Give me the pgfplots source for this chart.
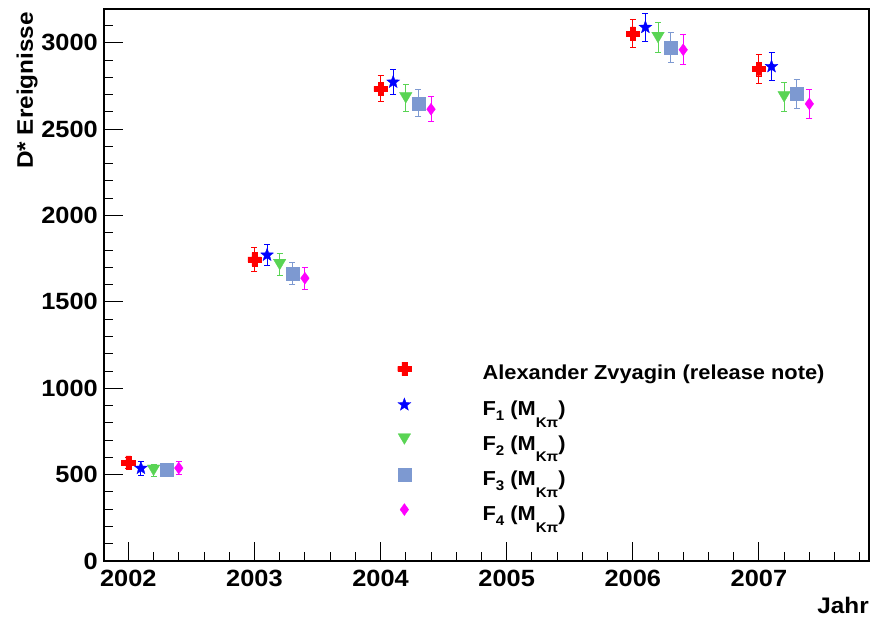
\documentclass[border=0pt]{standalone}
\usepackage{pgfplots}
\pgfplotsset{compat=1.18}
\usepackage{fontspec}
\setmainfont{Liberation Sans}[FakeStretch=1.08]
\usetikzlibrary{plotmarks}

% lowered subscripts as in the ROOT legend
\newcommand\lowsub[2]{\raisebox{#1}{\fontsize{14}{14}\selectfont #2}}

% filled markers in the ROOT style
\pgfdeclareplotmark{fplus}{%
  \pgfpathmoveto{\pgfqpoint{-0.37\pgfplotmarksize}{\pgfplotmarksize}}%
  \pgfpathlineto{\pgfqpoint{0.37\pgfplotmarksize}{\pgfplotmarksize}}%
  \pgfpathlineto{\pgfqpoint{0.37\pgfplotmarksize}{0.37\pgfplotmarksize}}%
  \pgfpathlineto{\pgfqpoint{\pgfplotmarksize}{0.37\pgfplotmarksize}}%
  \pgfpathlineto{\pgfqpoint{\pgfplotmarksize}{-0.37\pgfplotmarksize}}%
  \pgfpathlineto{\pgfqpoint{0.37\pgfplotmarksize}{-0.37\pgfplotmarksize}}%
  \pgfpathlineto{\pgfqpoint{0.37\pgfplotmarksize}{-\pgfplotmarksize}}%
  \pgfpathlineto{\pgfqpoint{-0.37\pgfplotmarksize}{-\pgfplotmarksize}}%
  \pgfpathlineto{\pgfqpoint{-0.37\pgfplotmarksize}{-0.37\pgfplotmarksize}}%
  \pgfpathlineto{\pgfqpoint{-\pgfplotmarksize}{-0.37\pgfplotmarksize}}%
  \pgfpathlineto{\pgfqpoint{-\pgfplotmarksize}{0.37\pgfplotmarksize}}%
  \pgfpathlineto{\pgfqpoint{-0.37\pgfplotmarksize}{0.37\pgfplotmarksize}}%
  \pgfpathclose\pgfusepathqfillstroke}
\pgfdeclareplotmark{fstar}{%
  \pgfpathmoveto{\pgfpointpolar{90}{\pgfplotmarksize}}%
  \pgfpathlineto{\pgfpointpolar{126}{0.42\pgfplotmarksize}}%
  \pgfpathlineto{\pgfpointpolar{162}{\pgfplotmarksize}}%
  \pgfpathlineto{\pgfpointpolar{198}{0.42\pgfplotmarksize}}%
  \pgfpathlineto{\pgfpointpolar{234}{\pgfplotmarksize}}%
  \pgfpathlineto{\pgfpointpolar{270}{0.42\pgfplotmarksize}}%
  \pgfpathlineto{\pgfpointpolar{306}{\pgfplotmarksize}}%
  \pgfpathlineto{\pgfpointpolar{342}{0.42\pgfplotmarksize}}%
  \pgfpathlineto{\pgfpointpolar{18}{\pgfplotmarksize}}%
  \pgfpathlineto{\pgfpointpolar{54}{0.42\pgfplotmarksize}}%
  \pgfpathclose\pgfusepathqfillstroke}
\pgfdeclareplotmark{ftridown}{%
  \pgfpathmoveto{\pgfqpoint{-\pgfplotmarksize}{0.85\pgfplotmarksize}}%
  \pgfpathlineto{\pgfqpoint{\pgfplotmarksize}{0.85\pgfplotmarksize}}%
  \pgfpathlineto{\pgfqpoint{0pt}{-0.85\pgfplotmarksize}}%
  \pgfpathclose\pgfusepathqfillstroke}
\pgfdeclareplotmark{fdiamond}{%
  \pgfpathmoveto{\pgfqpoint{0pt}{\pgfplotmarksize}}%
  \pgfpathlineto{\pgfqpoint{0.72\pgfplotmarksize}{0pt}}%
  \pgfpathlineto{\pgfqpoint{0pt}{-\pgfplotmarksize}}%
  \pgfpathlineto{\pgfqpoint{-0.72\pgfplotmarksize}{0pt}}%
  \pgfpathclose\pgfusepathqfillstroke}

\definecolor{rootred}{RGB}{255,0,0}
\definecolor{rootblue}{RGB}{0,0,255}
\definecolor{rootgreen}{RGB}{89,212,84}
\definecolor{rootsteel}{RGB}{125,153,209}
\definecolor{rootmagenta}{RGB}{255,0,255}

% D* yields per year, x shifted per method
\pgfplotstableread{
x       y     e
2002.0  569   33
2003.0  1746  70
2004.0  2733  75
2006.0  3053  80
2007.0  2848  82
}\tabRef
\pgfplotstableread{
x       y     e
2002.1  537   39
2003.1  1771  63
2004.1  2772  74
2006.1  3089  82
2007.1  2862  82
}\tabFone
\pgfplotstableread{
x       y     e
2002.2  525   36
2003.2  1716  65
2004.2  2681  79
2006.2  3030  87
2007.2  2687  85
}\tabFtwo
\pgfplotstableread{
x       y     e
2002.3  531   36
2003.3  1666  64
2004.3  2650  77
2006.3  2974  87
2007.3  2703  86
}\tabFthree
\pgfplotstableread{
x       y     e
2002.4  538   37
2003.4  1637  64
2004.4  2615  73
2006.4  2959  87
2007.4  2646  85
}\tabFfour

\begin{document}
\begin{tikzpicture}
\begin{axis}[
  at={(0pt,0pt)}, anchor=south west,
  scale only axis, width=765pt, height=552pt,
  xmin=2001.807, xmax=2007.873,
  ymin=0, ymax=3195,
  axis line style={line width=1.1pt},
  tick align=inside,
  xtick pos=left, ytick pos=left,
  xtick={2002,2003,...,2007},
  minor xtick={2002.2,2002.4,2002.6,2002.8,2003.2,2003.4,2003.6,2003.8,
               2004.2,2004.4,2004.6,2004.8,2005.2,2005.4,2005.6,2005.8,
               2006.2,2006.4,2006.6,2006.8,2007.2,2007.4,2007.6,2007.8},
  ytick={0,500,...,3000},
  minor ytick={100,200,300,400,600,700,800,900,1100,1200,1300,1400,
               1600,1700,1800,1900,2100,2200,2300,2400,2600,2700,2800,2900,3100},
  major tick length=19pt, minor tick length=9.5pt,
  tick style={black, line width=0.9pt},
  /pgf/number format/assume math mode=true,
  /pgf/number format/1000 sep={},
  ticklabel style={font=\fontsize{23.5}{23.5}\selectfont\bfseries, inner sep=0pt},
  xticklabel style={yshift=-9pt},
  yticklabel style={xshift=-6pt},
  every axis x label/.style={at={([yshift=-36pt]rel axis cs:1,0)}, anchor=north east,
    inner sep=0pt, font=\fontsize{22.5}{22.5}\selectfont\bfseries},
  every axis y label/.style={at={([xshift=-71pt,yshift=-3pt]rel axis cs:0,1)}, rotate=90,
    anchor=base east, inner sep=0pt, font=\fontsize{22.5}{22.5}\selectfont\bfseries},
  xlabel={Jahr},
  ylabel={D* Ereignisse},
  clip=false,
  error bars/y dir=both, error bars/y explicit,
  error bars/error bar style={line width=0.9pt},
  error bars/error mark options={rotate=90, mark size=3pt, line width=0.9pt},
  legend image code/.code={%
    \draw[#1] plot coordinates {(0pt,7pt)};
    \path (-7pt,0pt) (78pt,0pt);},
  legend cell align=left,
  legend style={at={(rel axis cs:0.383,0.3605)}, anchor=north west,
    draw=none, fill=none, inner sep=0pt, column sep=0pt, row sep=10pt,
    font=\fontsize{20.2}{20.2}\selectfont\bfseries,
    nodes={inner sep=0pt, text height=16pt, text depth=8pt}},
]
\addplot[only marks, color=rootred, mark=fplus, mark size=6.7pt, mark options={line width=0.3pt}]
  table[x=x, y=y, y error=e] {\tabRef};
\addlegendentry{Alexander Zvyagin (release note)}
\addplot[only marks, color=rootblue, mark=fstar, mark size=6.8pt, mark options={line width=0.3pt}]
  table[x=x, y=y, y error=e] {\tabFone};
\addlegendentry{F\lowsub{-5pt}{1} (M\lowsub{-11.5pt}{Kπ})}
\addplot[only marks, color=rootgreen, mark=ftridown, mark size=6.3pt, mark options={line width=0.3pt}]
  table[x=x, y=y, y error=e] {\tabFtwo};
\addlegendentry{F\lowsub{-5pt}{2} (M\lowsub{-11.5pt}{Kπ})}
\addplot[only marks, color=rootsteel, mark=square*, mark size=6.5pt, mark options={line width=0.3pt}]
  table[x=x, y=y, y error=e] {\tabFthree};
\addlegendentry{F\lowsub{-5pt}{3} (M\lowsub{-11.5pt}{Kπ})}
\addplot[only marks, color=rootmagenta, mark=fdiamond, mark size=6pt, mark options={line width=0.3pt}]
  table[x=x, y=y, y error=e] {\tabFfour};
\addlegendentry{F\lowsub{-5pt}{4} (M\lowsub{-11.5pt}{Kπ})}
\end{axis}
\pgfresetboundingbox
\path (-104pt,-58pt) rectangle (769pt,561pt);
\end{tikzpicture}
\end{document}
